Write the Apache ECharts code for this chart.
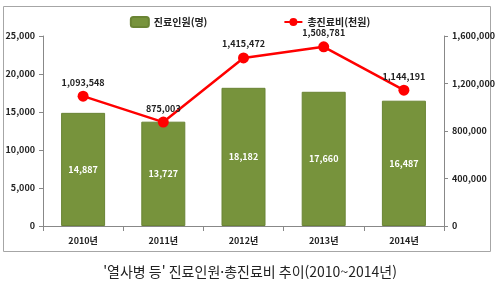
<!DOCTYPE html>
<html lang="ko">
<head>
<meta charset="UTF-8">
<title>열사병 등 진료인원·총진료비</title>
<script src="https://cdn.jsdelivr.net/npm/echarts@6/dist/echarts.min.js"></script>
<style>
    html, body { margin: 0; padding: 0; background: #fff; }
    #main { width: 500px; height: 282px; }
</style>
</head>
<body>
<div id="main"></div>
<script>
    // 데이터
    var years = ['2010년', '2011년', '2012년', '2013년', '2014년'];
    var patients = [14887, 13727, 18182, 17660, 16487];      // 진료인원(명)
    var costs = [1093548, 875003, 1415472, 1508781, 1144191]; // 총진료비(천원)

    var font = '"Noto Sans CJK KR", "DejaVu Sans", sans-serif';
    var chart = echarts.init(document.getElementById('main'));

    var option = {
        animation: false,
        textStyle: { fontFamily: font },
        graphic: [{
            type: 'rect',
            shape: { x: 3.5, y: 6.5, width: 487, height: 245 },
            style: { fill: 'none', stroke: '#a6a6a6', lineWidth: 1 }
        }],
        title: {
            text: "'열사병 등' 진료인원·총진료비 추이(2010~2014년)",
            left: 'center',
            top: 260,
            textStyle: { fontFamily: font, fontSize: 14, fontWeight: 'normal', color: '#222' }
        },
        legend: {
            top: 11,
            left: 'center',
            itemGap: 76,
            itemWidth: 18,
            itemHeight: 10,
            textStyle: { fontFamily: font, fontSize: 10, fontWeight: 'bold', color: '#222' },
            data: ['진료인원(명)', '총진료비(천원)']
        },
        grid: { left: 43, right: 56, top: 36, bottom: 56 },
        xAxis: {
            type: 'category',
            data: years,
            axisLine: { lineStyle: { color: '#888' } },
            axisTick: { show: true, length: 5, lineStyle: { color: '#888' } },
            axisLabel: { margin: 10, fontSize: 9, fontWeight: 'bold', color: '#222', fontFamily: font }
        },
        yAxis: [{
            type: 'value',
            min: 0, max: 25000, interval: 5000,
            splitLine: { show: false },
            axisLine: { show: true, lineStyle: { color: '#888' } },
            axisTick: { show: true, length: 4, lineStyle: { color: '#888' } },
            axisLabel: {
                fontSize: 9, fontWeight: 'bold', color: '#222', fontFamily: font, margin: 8,
                formatter: function (v) { return v.toLocaleString('en-US'); }
            }
        }, {
            type: 'value',
            min: 0, max: 1600000, interval: 400000,
            splitLine: { show: false },
            axisLine: { show: true, lineStyle: { color: '#888' } },
            axisTick: { show: true, length: 4, lineStyle: { color: '#888' } },
            axisLabel: {
                fontSize: 9, fontWeight: 'bold', color: '#222', fontFamily: font, margin: 8,
                formatter: function (v) { return v.toLocaleString('en-US'); }
            }
        }],
        series: [{
            name: '진료인원(명)',
            type: 'bar',
            data: patients,
            barWidth: 44,
            itemStyle: { color: '#77933c', borderColor: '#6a8434', borderWidth: 1 },
            label: {
                show: true, position: 'inside', color: '#fff',
                fontSize: 9, fontWeight: 'bold', fontFamily: font,
                formatter: function (p) { return p.value.toLocaleString('en-US'); }
            }
        }, {
            name: '총진료비(천원)',
            type: 'line',
            yAxisIndex: 1,
            data: costs,
            symbol: 'circle',
            symbolSize: 11,
            lineStyle: { color: '#ff0000', width: 2.5 },
            itemStyle: { color: '#ff0000' },
            label: {
                show: true, position: 'top', distance: 4, color: '#222',
                fontSize: 9, fontWeight: 'bold', fontFamily: font,
                formatter: function (p) { return p.value.toLocaleString('en-US'); }
            }
        }]
    };

    chart.setOption(option);
</script>
</body>
</html>
